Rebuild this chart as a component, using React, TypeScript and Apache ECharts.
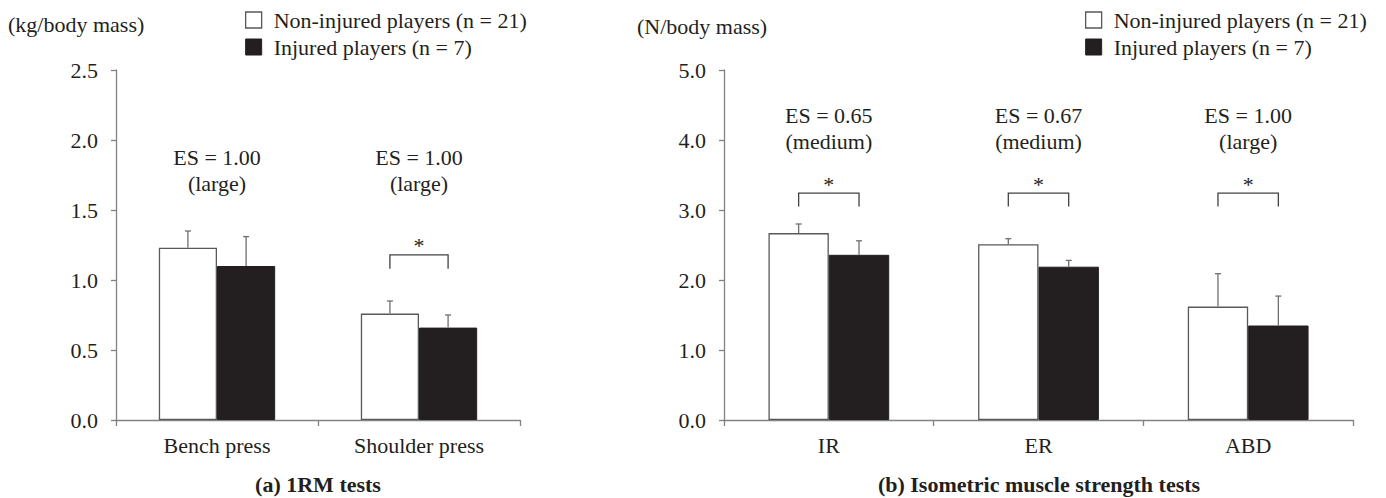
import React, { useEffect, useRef } from "react";
import * as echarts from "echarts";

// ---------- data ----------
const categories1 = ["Bench press", "Shoulder press"];
const nonInjured1 = [1.23, 0.76];
const nonInjuredSD1 = [0.12, 0.09];
const injured1 = [1.1, 0.66];
const injuredSD1 = [0.21, 0.09];
const esValue1 = ["1.00", "1.00"];
const esSize1 = ["large", "large"];
const significant1 = [false, true];

const categories2 = ["IR", "ER", "ABD"];
const nonInjured2 = [2.67, 2.51, 1.62];
const nonInjuredSD2 = [0.13, 0.08, 0.47];
const injured2 = [2.36, 2.19, 1.35];
const injuredSD2 = [0.2, 0.09, 0.42];
const esValue2 = ["0.65", "0.67", "1.00"];
const esSize2 = ["medium", "medium", "large"];
const significant2 = [true, true, true];

const yTicks1 = { min: 0, max: 2.5, interval: 0.5 };
const yTicks2 = { min: 0, max: 5, interval: 1 };

// annotation heights (axis units)
const esLevel1 = 1.78;
const bracketTop1 = 1.18;
const bracketBottom1 = 1.08;
const esLevel2 = 4.17;
const bracketTop2 = 3.24;
const bracketBottom2 = 3.05;

const NAME_A = "Non-injured players (n = 21)";
const NAME_B = "Injured players (n = 7)";

// ---------- styles ----------
const FONT = '"Liberation Serif", "Times New Roman", serif';
const TXT = "#231f20";
const AXIS = "#808285";
const EB = "#6d6e71";
const BAR_FRAC = 0.288;
const FS = 22;

function errorRender(side: number) {
  return (params: any, api: any) => {
    const cat = api.value(0);
    const mean = api.value(1);
    const sd = api.value(2);
    const band = api.size([1, 0])[0];
    const off = (side * band * BAR_FRAC) / 2;
    const p0 = api.coord([cat, mean]);
    const p1 = api.coord([cat, mean + sd]);
    const x = p0[0] + off;
    const st = { stroke: EB, lineWidth: 1.3 };
    return {
      type: "group",
      children: [
        { type: "line", shape: { x1: x, y1: p0[1], x2: x, y2: p1[1] }, style: st },
        { type: "line", shape: { x1: x - 3, y1: p1[1], x2: x + 3, y2: p1[1] }, style: st },
      ],
    };
  };
}

function bracketRender(params: any, api: any) {
  const cat = api.value(0);
  const top = api.value(1);
  const bottom = api.value(2);
  const band = api.size([1, 0])[0];
  const half = (band * BAR_FRAC) / 2;
  const pt = api.coord([cat, top]);
  const pb = api.coord([cat, bottom]);
  const xl = pt[0] - half;
  const xr = pt[0] + half;
  return {
    type: "group",
    children: [
      {
        type: "polyline",
        shape: { points: [[xl, pb[1]], [xl, pt[1]], [xr, pt[1]], [xr, pb[1]]] },
        style: { stroke: "#414042", lineWidth: 1.3, fill: "none" },
      },
      {
        type: "text",
        x: pt[0],
        y: pt[1] - 9,
        style: { text: "*", fontSize: FS, fontFamily: FONT, fill: TXT, align: "center", verticalAlign: "middle" },
      },
    ],
  };
}

function esRender(vals: string[], sizes: string[]) {
  return (params: any, api: any) => {
    const cat = api.value(0);
    const lvl = api.value(1);
    const p = api.coord([cat, lvl]);
    const i = params.dataIndex;
    return {
      type: "text",
      x: p[0],
      y: p[1],
      style: {
        text: "ES = " + vals[i] + "\n(" + sizes[i] + ")",
        fontSize: FS,
        lineHeight: 26,
        fontFamily: FONT,
        fill: TXT,
        align: "center",
        verticalAlign: "middle",
      },
    };
  };
}

function axesFor(gridIndex: number, cats: string[], ticks: any) {
  const line = { show: true, lineStyle: { color: AXIS, width: 1.3 } };
  return {
    x: {
      type: "category",
      gridIndex,
      data: cats,
      axisLine: line,
      axisTick: { show: true, length: 6, alignWithLabel: false, lineStyle: { color: AXIS, width: 1.3 } },
      axisLabel: { margin: 14, fontSize: FS, fontFamily: FONT, color: TXT },
      splitLine: { show: false },
    },
    y: {
      type: "value",
      gridIndex,
      min: ticks.min,
      max: ticks.max,
      interval: ticks.interval,
      axisLine: line,
      axisTick: { show: true, length: 5, lineStyle: { color: AXIS, width: 1.3 } },
      axisLabel: {
        margin: 18,
        fontSize: FS,
        fontFamily: FONT,
        color: TXT,
        formatter: (v: number) => v.toFixed(1),
      },
      splitLine: { show: false },
    },
  };
}

function seriesFor(
  idx: number,
  a: number[],
  aSD: number[],
  b: number[],
  bSD: number[],
  esV: string[],
  esS: string[],
  sig: boolean[],
  esLevel: number,
  bTop: number,
  bBottom: number
) {
  const common = { xAxisIndex: idx, yAxisIndex: idx };
  const brackets: any[] = [];
  sig.forEach((s, i) => {
    if (s) brackets.push([i, bTop, bBottom]);
  });
  return [
    {
      ...common,
      type: "bar",
      name: NAME_A,
      data: a,
      barWidth: BAR_FRAC * 100 + "%",
      barGap: "0%",
      itemStyle: { color: "#ffffff", borderColor: "#58595b", borderWidth: 1.3 },
    },
    {
      ...common,
      type: "bar",
      name: NAME_B,
      data: b,
      barWidth: BAR_FRAC * 100 + "%",
      barGap: "0%",
      itemStyle: { color: "#231f20", borderColor: "#231f20", borderWidth: 1 },
    },
    {
      ...common,
      type: "custom",
      renderItem: errorRender(-1),
      data: a.map((v, i) => [i, v, aSD[i]]),
      encode: { x: 0, y: 1 },
      z: 5,
      silent: true,
    },
    {
      ...common,
      type: "custom",
      renderItem: errorRender(1),
      data: b.map((v, i) => [i, v, bSD[i]]),
      encode: { x: 0, y: 1 },
      z: 5,
      silent: true,
    },
    {
      ...common,
      type: "custom",
      renderItem: bracketRender,
      data: brackets,
      encode: { x: 0, y: 1 },
      z: 5,
      silent: true,
    },
    {
      ...common,
      type: "custom",
      renderItem: esRender(esV, esS),
      data: esV.map((_, i) => [i, esLevel]),
      encode: { x: 0, y: 1 },
      z: 5,
      silent: true,
    },
  ];
}

function legendAt(left: number) {
  return {
    orient: "vertical",
    left,
    top: 9,
    padding: 0,
    itemWidth: 16,
    itemHeight: 16,
    itemGap: 5,
    icon: "rect",
    selectedMode: false,
    textStyle: { fontSize: FS, fontFamily: FONT, color: TXT, padding: [0, 0, 0, 7] },
    data: [
      { name: NAME_A, itemStyle: { color: "#ffffff", borderColor: "#58595b", borderWidth: 1.3 } },
      { name: NAME_B, itemStyle: { color: "#231f20", borderColor: "#231f20", borderWidth: 1 } },
    ],
  };
}

export default function App() {
  const ref = useRef<HTMLDivElement>(null);
  useEffect(() => {
    document.body.style.margin = "0";
    const chart = echarts.init(ref.current!, null, { renderer: "svg" });
    const ax1 = axesFor(0, categories1, yTicks1);
    const ax2 = axesFor(1, categories2, yTicks2);
    chart.setOption({
      animation: false,
      backgroundColor: "#ffffff",
      textStyle: { fontFamily: FONT },
      grid: [
        { left: 116, top: 70, width: 404, height: 350 },
        { left: 724, top: 70, width: 629, height: 350 },
      ],
      xAxis: [ax1.x, ax2.x],
      yAxis: [ax1.y, ax2.y],
      legend: [legendAt(245), legendAt(1085)],
      series: [
        ...seriesFor(0, nonInjured1, nonInjuredSD1, injured1, injuredSD1, esValue1, esSize1, significant1, esLevel1, bracketTop1, bracketBottom1),
        ...seriesFor(1, nonInjured2, nonInjuredSD2, injured2, injuredSD2, esValue2, esSize2, significant2, esLevel2, bracketTop2, bracketBottom2),
      ],
      graphic: [
        { type: "text", left: 8, top: 13, style: { text: "(kg/body mass)", fontSize: FS, fontFamily: FONT, fill: TXT } },
        { type: "text", left: 637, top: 15, style: { text: "(N/body mass)", fontSize: FS, fontFamily: FONT, fill: TXT } },
        {
          type: "text",
          x: 318,
          y: 484,
          style: { text: "(a) 1RM tests", fontSize: FS, fontWeight: "bold", fontFamily: FONT, fill: TXT, align: "center", verticalAlign: "middle" },
        },
        {
          type: "text",
          x: 1039,
          y: 484,
          style: { text: "(b) Isometric muscle strength tests", fontSize: FS, fontWeight: "bold", fontFamily: FONT, fill: TXT, align: "center", verticalAlign: "middle" },
        },
      ],
    });
    return () => chart.dispose();
  }, []);
  return <div ref={ref} style={{ width: 1386, height: 498 }} />;
}
